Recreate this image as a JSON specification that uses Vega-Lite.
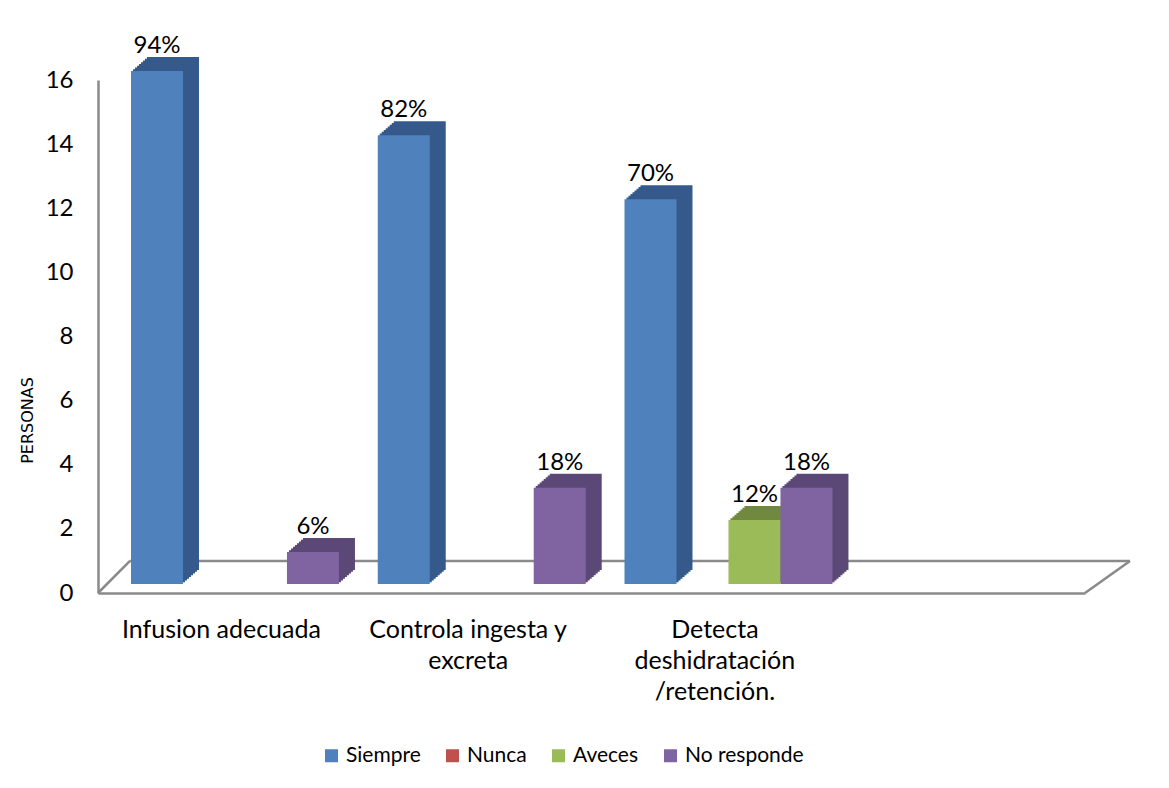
{
  "$schema": "https://vega.github.io/schema/vega-lite/v6.json",
  "width": 987,
  "height": 513,
  "autosize": "none",
  "padding": {"left": 98, "top": 80, "right": 84, "bottom": 195},
  "background": "white",
  "config": {
    "view": {"stroke": null},
    "font": "Lato",
    "axis": {"labelFont": "Lato", "labelColor": "black", "titleColor": "black"},
    "legend": {"labelFont": "Lato", "labelColor": "black"}
  },
  "data": {
    "values": [
      {"categoria": "Infusion adecuada", "serie": "Siempre", "personas": 16, "porcentaje": "94%"},
      {"categoria": "Infusion adecuada", "serie": "No responde", "personas": 1, "porcentaje": "6%"},
      {"categoria": "Controla ingesta y excreta", "serie": "Siempre", "personas": 14, "porcentaje": "82%"},
      {"categoria": "Controla ingesta y excreta", "serie": "No responde", "personas": 3, "porcentaje": "18%"},
      {"categoria": "Detecta deshidratación /retención.", "serie": "Siempre", "personas": 12, "porcentaje": "70%"},
      {"categoria": "Detecta deshidratación /retención.", "serie": "Aveces", "personas": 2, "porcentaje": "12%"},
      {"categoria": "Detecta deshidratación /retención.", "serie": "No responde", "personas": 3, "porcentaje": "18%"}
    ]
  },
  "resolve": {"scale": {"xOffset": "independent", "color": "independent"}},
  "layer": [
    {
      "data": {"values": [{}]},
      "mark": {"type": "rule", "color": "#8a8a8a", "strokeWidth": 2.5, "x2Offset": 32},
      "encoding": {
        "x": {"datum": "Infusion adecuada", "bandPosition": 0, "type": "nominal"},
        "x2": {"datum": "Infusion adecuada", "bandPosition": 0},
        "y": {"datum": 0, "type": "quantitative"},
        "y2": {"datum": 1}
      }
    },
    {
      "data": {"values": [{}]},
      "mark": {"type": "rule", "color": "#8a8a8a", "strokeWidth": 2.5, "xOffset": 32, "x2Offset": 45},
      "encoding": {
        "x": {"datum": "Infusion adecuada", "bandPosition": 0, "type": "nominal"},
        "x2": {"datum": " ", "bandPosition": 1},
        "y": {"datum": 1, "type": "quantitative"}
      }
    },
    {
      "data": {"values": [{}]},
      "mark": {"type": "rule", "color": "#8a8a8a", "strokeWidth": 2.5, "x2Offset": 45},
      "encoding": {
        "x": {"datum": " ", "bandPosition": 1, "type": "nominal"},
        "x2": {"datum": " ", "bandPosition": 1},
        "y": {"datum": 0, "type": "quantitative"},
        "y2": {"datum": 1}
      }
    },
    {"mark": {"type": "bar", "yOffset": -10.75}, "encoding": {"x": {"field": "categoria", "type": "nominal"}, "xOffset": {"field": "serie", "type": "nominal", "scale": {"domain": ["Siempre", "Nunca", "Aveces", "No responde"], "range": [15.6, 262.35], "paddingInner": 0, "paddingOuter": 0.373}}, "y": {"field": "personas", "type": "quantitative"}, "color": {"field": "serie", "type": "nominal", "scale": {"domain": ["Siempre", "Nunca", "Aveces", "No responde"], "range": ["#34598A", "#8C3836", "#71893F", "#5B4876"]}, "legend": null}}},
    {"mark": {"type": "bar", "yOffset": -12.5}, "encoding": {"x": {"field": "categoria", "type": "nominal"}, "xOffset": {"field": "serie", "type": "nominal", "scale": {"domain": ["Siempre", "Nunca", "Aveces", "No responde"], "range": [17.6, 264.35], "paddingInner": 0, "paddingOuter": 0.373}}, "y": {"field": "personas", "type": "quantitative"}, "color": {"field": "serie", "type": "nominal", "scale": {"domain": ["Siempre", "Nunca", "Aveces", "No responde"], "range": ["#34598A", "#8C3836", "#71893F", "#5B4876"]}, "legend": null}}},
    {"mark": {"type": "bar", "yOffset": -14.25}, "encoding": {"x": {"field": "categoria", "type": "nominal"}, "xOffset": {"field": "serie", "type": "nominal", "scale": {"domain": ["Siempre", "Nunca", "Aveces", "No responde"], "range": [19.6, 266.35], "paddingInner": 0, "paddingOuter": 0.373}}, "y": {"field": "personas", "type": "quantitative"}, "color": {"field": "serie", "type": "nominal", "scale": {"domain": ["Siempre", "Nunca", "Aveces", "No responde"], "range": ["#34598A", "#8C3836", "#71893F", "#5B4876"]}, "legend": null}}},
    {"mark": {"type": "bar", "yOffset": -16}, "encoding": {"x": {"field": "categoria", "type": "nominal"}, "xOffset": {"field": "serie", "type": "nominal", "scale": {"domain": ["Siempre", "Nunca", "Aveces", "No responde"], "range": [21.6, 268.35], "paddingInner": 0, "paddingOuter": 0.373}}, "y": {"field": "personas", "type": "quantitative"}, "color": {"field": "serie", "type": "nominal", "scale": {"domain": ["Siempre", "Nunca", "Aveces", "No responde"], "range": ["#34598A", "#8C3836", "#71893F", "#5B4876"]}, "legend": null}}},
    {"mark": {"type": "bar", "yOffset": -17.75}, "encoding": {"x": {"field": "categoria", "type": "nominal"}, "xOffset": {"field": "serie", "type": "nominal", "scale": {"domain": ["Siempre", "Nunca", "Aveces", "No responde"], "range": [23.6, 270.35], "paddingInner": 0, "paddingOuter": 0.373}}, "y": {"field": "personas", "type": "quantitative"}, "color": {"field": "serie", "type": "nominal", "scale": {"domain": ["Siempre", "Nunca", "Aveces", "No responde"], "range": ["#34598A", "#8C3836", "#71893F", "#5B4876"]}, "legend": null}}},
    {"mark": {"type": "bar", "yOffset": -19.5}, "encoding": {"x": {"field": "categoria", "type": "nominal"}, "xOffset": {"field": "serie", "type": "nominal", "scale": {"domain": ["Siempre", "Nunca", "Aveces", "No responde"], "range": [25.6, 272.35], "paddingInner": 0, "paddingOuter": 0.373}}, "y": {"field": "personas", "type": "quantitative"}, "color": {"field": "serie", "type": "nominal", "scale": {"domain": ["Siempre", "Nunca", "Aveces", "No responde"], "range": ["#34598A", "#8C3836", "#71893F", "#5B4876"]}, "legend": null}}},
    {"mark": {"type": "bar", "yOffset": -21.25}, "encoding": {"x": {"field": "categoria", "type": "nominal"}, "xOffset": {"field": "serie", "type": "nominal", "scale": {"domain": ["Siempre", "Nunca", "Aveces", "No responde"], "range": [27.6, 274.35], "paddingInner": 0, "paddingOuter": 0.373}}, "y": {"field": "personas", "type": "quantitative"}, "color": {"field": "serie", "type": "nominal", "scale": {"domain": ["Siempre", "Nunca", "Aveces", "No responde"], "range": ["#34598A", "#8C3836", "#71893F", "#5B4876"]}, "legend": null}}},
    {"mark": {"type": "bar", "yOffset": -23}, "encoding": {"x": {"field": "categoria", "type": "nominal"}, "xOffset": {"field": "serie", "type": "nominal", "scale": {"domain": ["Siempre", "Nunca", "Aveces", "No responde"], "range": [29.6, 276.35], "paddingInner": 0, "paddingOuter": 0.373}}, "y": {"field": "personas", "type": "quantitative"}, "color": {"field": "serie", "type": "nominal", "scale": {"domain": ["Siempre", "Nunca", "Aveces", "No responde"], "range": ["#34598A", "#8C3836", "#71893F", "#5B4876"]}, "legend": null}}},
    {
      "mark": {"type": "bar", "yOffset": -9},
      "encoding": {
        "x": {
          "field": "categoria",
          "type": "nominal",
          "sort": null,
          "scale": {"domain": ["Infusion adecuada", "Controla ingesta y excreta", "Detecta deshidratación /retención.", " "], "paddingInner": 0, "paddingOuter": 0},
          "axis": {
            "title": null,
            "labelAngle": 0,
            "labelFontSize": 25,
            "labelPadding": 24,
            "labelLineHeight": 31,
            "labelBaseline": "top",
            "labelAlign": "center",
            "labelLimit": 0,
            "ticks": false,
            "domainColor": "#8a8a8a",
            "domainWidth": 2.5,
            "labelExpr": "datum.value == 'Controla ingesta y excreta' ? ['Controla ingesta y', 'excreta'] : datum.value == 'Detecta deshidratación /retención.' ? ['Detecta', 'deshidratación', '/retención.'] : datum.value"
          }
        },
        "xOffset": {
          "field": "serie",
          "type": "nominal",
          "scale": {"domain": ["Siempre", "Nunca", "Aveces", "No responde"], "range": [13.6, 260.35], "paddingInner": 0, "paddingOuter": 0.373}
        },
        "y": {
          "field": "personas",
          "type": "quantitative",
          "scale": {"domain": [0, 16], "nice": false},
          "axis": {
            "title": "PERSONAS",
            "titleFont": "DejaVu Sans",
            "titleFontSize": 16,
            "titleFontWeight": "normal",
            "titleAngle": -90,
            "titleX": -71,
            "titleY": 340,
            "titleAlign": "center",
            "titleBaseline": "middle",
            "values": [0, 2, 4, 6, 8, 10, 12, 14, 16],
            "labelFontSize": 24,
            "labelPadding": 25,
            "ticks": false,
            "grid": false,
            "domainColor": "#8a8a8a",
            "domainWidth": 2.5
          }
        },
        "color": {
          "field": "serie",
          "type": "nominal",
          "scale": {"domain": ["Siempre", "Nunca", "Aveces", "No responde"], "range": ["#4F81BD", "#C0504D", "#9BBB59", "#8064A2"]},
          "legend": {
            "title": null,
            "orient": "none",
            "direction": "horizontal",
            "legendX": 223,
            "legendY": 665,
            "symbolType": "square",
            "symbolSize": 169,
            "symbolStrokeWidth": 0,
            "labelFontSize": 21,
            "labelOffset": 4,
            "columnPadding": 21
          }
        }
      }
    },
    {
      "mark": {"type": "text", "dy": -27, "baseline": "alphabetic", "fontSize": 24, "color": "black"},
      "encoding": {
        "x": {"field": "categoria", "type": "nominal"},
        "xOffset": {
          "field": "serie",
          "type": "nominal",
          "scale": {"type": "point", "domain": ["Siempre", "Nunca", "Aveces", "No responde"], "range": [33, 241], "padding": 0.5}
        },
        "y": {"field": "personas", "type": "quantitative"},
        "text": {"field": "porcentaje"}
      }
    }
  ]
}
